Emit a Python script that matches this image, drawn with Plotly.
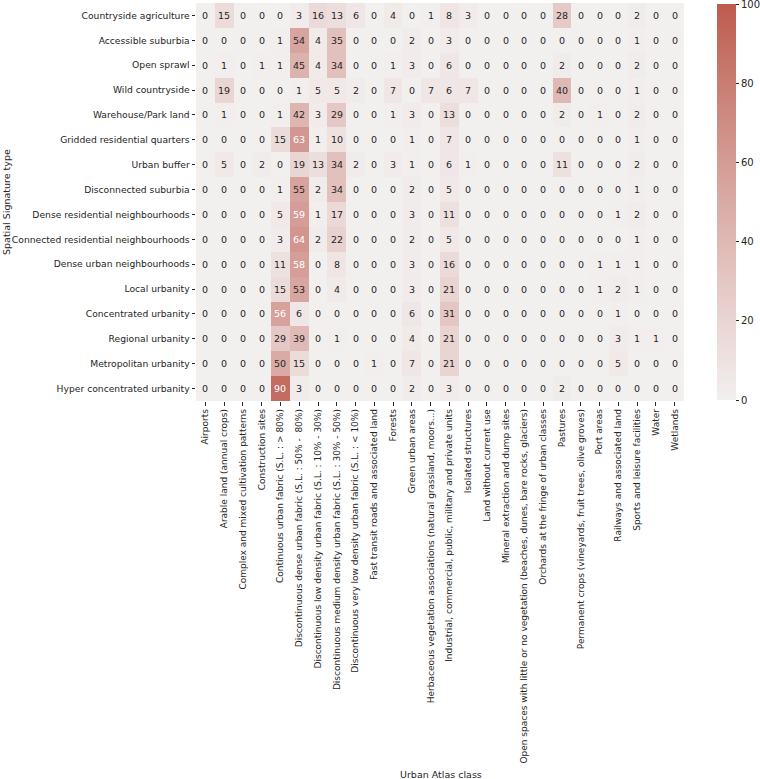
import plotly.graph_objects as go

rows = [
    "Countryside agriculture", "Accessible suburbia", "Open sprawl", "Wild countryside",
    "Warehouse/Park land", "Gridded residential quarters", "Urban buffer",
    "Disconnected suburbia", "Dense residential neighbourhoods",
    "Connected residential neighbourhoods", "Dense urban neighbourhoods",
    "Local urbanity", "Concentrated urbanity", "Regional urbanity",
    "Metropolitan urbanity", "Hyper concentrated urbanity",
]

cols = [
    "Airports", "Arable land (annual crops)", "Complex and mixed cultivation patterns",
    "Construction sites", "Continuous urban fabric (S.L. : > 80%)",
    "Discontinuous dense urban fabric (S.L. : 50% -  80%)",
    "Discontinuous low density urban fabric (S.L. : 10% - 30%)",
    "Discontinuous medium density urban fabric (S.L. : 30% - 50%)",
    "Discontinuous very low density urban fabric (S.L. : < 10%)",
    "Fast transit roads and associated land", "Forests", "Green urban areas",
    "Herbaceous vegetation associations (natural grassland, moors...)",
    "Industrial, commercial, public, military and private units",
    "Isolated structures", "Land without current use", "Mineral extraction and dump sites",
    "Open spaces with little or no vegetation (beaches, dunes, bare rocks, glaciers)",
    "Orchards at the fringe of urban classes", "Pastures",
    "Permanent crops (vineyards, fruit trees, olive groves)", "Port areas",
    "Railways and associated land", "Sports and leisure facilities", "Water", "Wetlands",
]

countryside_agriculture = [0, 15, 0, 0, 0, 3, 16, 13, 6, 0, 4, 0, 1, 8, 3, 0, 0, 0, 0, 28, 0, 0, 0, 2, 0, 0]
accessible_suburbia = [0, 0, 0, 0, 1, 54, 4, 35, 0, 0, 0, 2, 0, 3, 0, 0, 0, 0, 0, 0, 0, 0, 0, 1, 0, 0]
open_sprawl = [0, 1, 0, 1, 1, 45, 4, 34, 0, 0, 1, 3, 0, 6, 0, 0, 0, 0, 0, 2, 0, 0, 0, 2, 0, 0]
wild_countryside = [0, 19, 0, 0, 0, 1, 5, 5, 2, 0, 7, 0, 7, 6, 7, 0, 0, 0, 0, 40, 0, 0, 0, 1, 0, 0]
warehouse_park_land = [0, 1, 0, 0, 1, 42, 3, 29, 0, 0, 1, 3, 0, 13, 0, 0, 0, 0, 0, 2, 0, 1, 0, 2, 0, 0]
gridded_residential = [0, 0, 0, 0, 15, 63, 1, 10, 0, 0, 0, 1, 0, 7, 0, 0, 0, 0, 0, 0, 0, 0, 0, 1, 0, 0]
urban_buffer = [0, 5, 0, 2, 0, 19, 13, 34, 2, 0, 3, 1, 0, 6, 1, 0, 0, 0, 0, 11, 0, 0, 0, 2, 0, 0]
disconnected_suburbia = [0, 0, 0, 0, 1, 55, 2, 34, 0, 0, 0, 2, 0, 5, 0, 0, 0, 0, 0, 0, 0, 0, 0, 1, 0, 0]
dense_residential = [0, 0, 0, 0, 5, 59, 1, 17, 0, 0, 0, 3, 0, 11, 0, 0, 0, 0, 0, 0, 0, 0, 1, 2, 0, 0]
connected_residential = [0, 0, 0, 0, 3, 64, 2, 22, 0, 0, 0, 2, 0, 5, 0, 0, 0, 0, 0, 0, 0, 0, 0, 1, 0, 0]
dense_urban = [0, 0, 0, 0, 11, 58, 0, 8, 0, 0, 0, 3, 0, 16, 0, 0, 0, 0, 0, 0, 0, 1, 1, 1, 0, 0]
local_urbanity = [0, 0, 0, 0, 15, 53, 0, 4, 0, 0, 0, 3, 0, 21, 0, 0, 0, 0, 0, 0, 0, 1, 2, 1, 0, 0]
concentrated_urbanity = [0, 0, 0, 0, 56, 6, 0, 0, 0, 0, 0, 6, 0, 31, 0, 0, 0, 0, 0, 0, 0, 0, 1, 0, 0, 0]
regional_urbanity = [0, 0, 0, 0, 29, 39, 0, 1, 0, 0, 0, 4, 0, 21, 0, 0, 0, 0, 0, 0, 0, 0, 3, 1, 1, 0]
metropolitan_urbanity = [0, 0, 0, 0, 50, 15, 0, 0, 0, 1, 0, 7, 0, 21, 0, 0, 0, 0, 0, 0, 0, 0, 5, 0, 0, 0]
hyper_concentrated = [0, 0, 0, 0, 90, 3, 0, 0, 0, 0, 0, 2, 0, 3, 0, 0, 0, 0, 0, 2, 0, 0, 0, 0, 0, 0]

z = [
    countryside_agriculture, accessible_suburbia, open_sprawl, wild_countryside,
    warehouse_park_land, gridded_residential, urban_buffer, disconnected_suburbia,
    dense_residential, connected_residential, dense_urban, local_urbanity,
    concentrated_urbanity, regional_urbanity, metropolitan_urbanity, hyper_concentrated,
]

colorbar_ticks = [0, 20, 40, 60, 80, 100]

FONT = "DejaVu Sans"
TXT = "#262626"

colorscale = [
    [0.0, "#f2efef"],
    [0.2, "#e9d5d3"],
    [0.4, "#dfb9b4"],
    [0.6, "#d49c95"],
    [0.8, "#c97d73"],
    [1.0, "#be5b4e"],
]

L, R, T, B = 196, 76, 2.5, 377.5
W, H = 760, 779
plot_w = W - L - R
plot_h = H - T - B

fig = go.Figure()
fig.add_trace(go.Heatmap(
    z=z, x=cols, y=rows, zmin=0, zmax=100, colorscale=colorscale,
    xgap=0, ygap=0, hoverinfo="skip",
    colorbar=dict(
        x=(717 - L) / plot_w, xanchor="left",
        y=(H - B - 202) / plot_h, yanchor="middle",
        len=396, lenmode="pixels", thickness=19, thicknessmode="pixels",
        outlinewidth=0, tickvals=colorbar_ticks, ticks="outside", ticklen=3.5,
        tickwidth=0.8, tickcolor=TXT, tickfont=dict(family=FONT, size=10, color=TXT),
        ticklabeloverflow="allow", xpad=0, ypad=0,
    ),
))

annotations = []
for i, r in enumerate(rows):
    for j, c in enumerate(cols):
        v = z[i][j]
        annotations.append(dict(
            x=c, y=r, xref="x", yref="y", text=str(v), showarrow=False,
            font=dict(family=FONT, size=9.5, color="white" if v >= 56 else TXT),
        ))

annotations.append(dict(
    x=(441 - L) / plot_w, y=-(776 - (H - B)) / plot_h, xref="paper", yref="paper",
    text="Urban Atlas class", showarrow=False, xanchor="center", yanchor="middle",
    font=dict(family=FONT, size=9.5, color=TXT),
))
annotations.append(dict(
    x=-(L - 6) / plot_w, y=(H - B - 202) / plot_h, xref="paper", yref="paper",
    text="Spatial Signature type", showarrow=False, xanchor="center", yanchor="middle",
    textangle=-90, font=dict(family=FONT, size=9.5, color=TXT),
))

fig.update_layout(
    width=W, height=H, margin=dict(l=L, r=R, t=T, b=B, autoexpand=False),
    paper_bgcolor="white", plot_bgcolor="white",
    annotations=annotations,
    xaxis=dict(
        tickangle=-90, ticks="outside", ticklen=3.5, tickwidth=0.8, tickcolor=TXT,
        tickfont=dict(family=FONT, size=9, color=TXT), showgrid=False,
        zeroline=False, showline=False, automargin=False, type="category",
    ),
    yaxis=dict(
        autorange="reversed", ticks="outside", ticklen=3.5, tickwidth=0.8, tickcolor=TXT,
        tickfont=dict(family=FONT, size=9.2, color=TXT), showgrid=False,
        zeroline=False, showline=False, automargin=False, type="category",
    ),
)

fig.write_html(
    "out.html",
    config={"displayModeBar": False},
    post_script="document.body.style.margin='0';document.body.style.padding='0';",
)
